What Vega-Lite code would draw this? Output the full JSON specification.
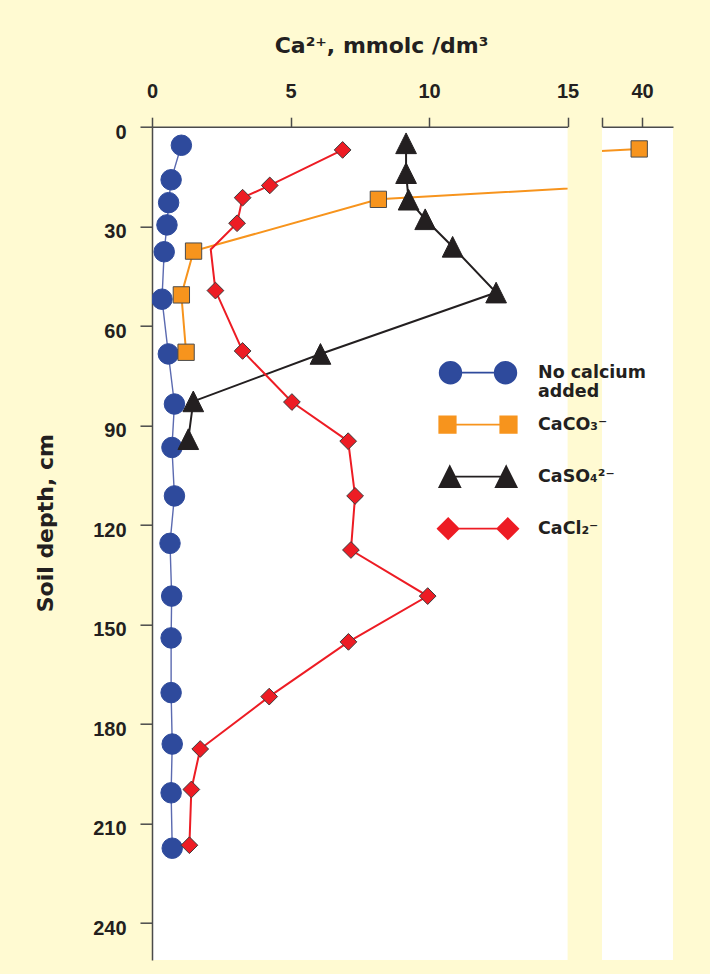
{
  "$schema": "https://vega.github.io/schema/vega-lite/v6.json",
  "background": "#fffad2",
  "padding": {"left": 34, "top": 34.7, "right": 37, "bottom": 14.3},
  "bounds": "flush",
  "spacing": 0,
  "config": {
    "view": {"stroke": null, "fill": "white"},
    "font": "DejaVu Sans",
    "axis": {"grid": false, "domainColor": "#4a4a4a", "domainWidth": 1.5, "tickColor": "#4a4a4a", "tickWidth": 1.5, "labelFont": "Liberation Sans", "labelFontWeight": "bold", "labelFontSize": 20, "labelColor": "#231f20", "titleFont": "DejaVu Sans", "titleFontWeight": "bold", "titleColor": "#231f20", "labelFlush": false, "labelOverlap": false},
    "legend": {"orient": "none", "legendX": 302, "legendY": 222, "title": null, "symbolSize": 2116, "symbolStrokeWidth": 1.8, "gridAlign": "all", "rowPadding": -4.5, "labelFont": "DejaVu Sans", "labelFontSize": 17.5, "labelFontWeight": "bold", "labelColor": "#231f20", "labelOffset": 36}
  },
  "datasets": {
    "obs": [
      {"series": "No calcium added", "x": 1.06, "depth": 5.6},
      {"series": "No calcium added", "x": 0.69, "depth": 16.0},
      {"series": "No calcium added", "x": 0.60, "depth": 22.9},
      {"series": "No calcium added", "x": 0.54, "depth": 29.6},
      {"series": "No calcium added", "x": 0.44, "depth": 37.7},
      {"series": "No calcium added", "x": 0.36, "depth": 52.0},
      {"series": "No calcium added", "x": 0.59, "depth": 68.5},
      {"series": "No calcium added", "x": 0.81, "depth": 83.6},
      {"series": "No calcium added", "x": 0.72, "depth": 96.7},
      {"series": "No calcium added", "x": 0.81, "depth": 111.3},
      {"series": "No calcium added", "x": 0.65, "depth": 125.6},
      {"series": "No calcium added", "x": 0.71, "depth": 141.5},
      {"series": "No calcium added", "x": 0.69, "depth": 154.1},
      {"series": "No calcium added", "x": 0.69, "depth": 170.6},
      {"series": "No calcium added", "x": 0.73, "depth": 186.1},
      {"series": "No calcium added", "x": 0.69, "depth": 200.8},
      {"series": "No calcium added", "x": 0.73, "depth": 217.5},
      {"series": "CaCO₃⁻", "x": 39.9, "depth": 6.7},
      {"series": "CaCO₃⁻", "x": 8.17, "depth": 21.9},
      {"series": "CaCO₃⁻", "x": 1.50, "depth": 37.5},
      {"series": "CaCO₃⁻", "x": 1.06, "depth": 50.7},
      {"series": "CaCO₃⁻", "x": 1.23, "depth": 68.0},
      {"series": "CaSO₄²⁻", "x": 9.17, "depth": 5.0},
      {"series": "CaSO₄²⁻", "x": 9.17, "depth": 14.0},
      {"series": "CaSO₄²⁻", "x": 9.26, "depth": 22.0},
      {"series": "CaSO₄²⁻", "x": 9.86, "depth": 27.9},
      {"series": "CaSO₄²⁻", "x": 10.85, "depth": 36.2},
      {"series": "CaSO₄²⁻", "x": 12.42, "depth": 50.0},
      {"series": "CaSO₄²⁻", "x": 6.08, "depth": 68.5},
      {"series": "CaSO₄²⁻", "x": 1.49, "depth": 82.8},
      {"series": "CaSO₄²⁻", "x": 1.31, "depth": 94.2},
      {"series": "CaCl₂⁻", "x": 6.88, "depth": 7.0},
      {"series": "CaCl₂⁻", "x": 4.25, "depth": 17.7},
      {"series": "CaCl₂⁻", "x": 3.27, "depth": 21.4},
      {"series": "CaCl₂⁻", "x": 3.07, "depth": 29.1},
      {"series": "CaCl₂⁻", "x": 2.12, "depth": 37.0},
      {"series": "CaCl₂⁻", "x": 2.29, "depth": 49.4},
      {"series": "CaCl₂⁻", "x": 3.27, "depth": 67.6},
      {"series": "CaCl₂⁻", "x": 5.05, "depth": 83.0},
      {"series": "CaCl₂⁻", "x": 7.08, "depth": 94.8},
      {"series": "CaCl₂⁻", "x": 7.33, "depth": 111.3},
      {"series": "CaCl₂⁻", "x": 7.18, "depth": 127.6},
      {"series": "CaCl₂⁻", "x": 9.95, "depth": 141.5},
      {"series": "CaCl₂⁻", "x": 7.09, "depth": 155.3},
      {"series": "CaCl₂⁻", "x": 4.23, "depth": 171.8},
      {"series": "CaCl₂⁻", "x": 1.74, "depth": 187.6},
      {"series": "CaCl₂⁻", "x": 1.42, "depth": 199.8},
      {"series": "CaCl₂⁻", "x": 1.35, "depth": 216.6}
    ]
  },
  "resolve": {"scale": {"x": "independent", "y": "shared"}},
  "hconcat": [
    {
      "width": 415.6,
      "height": 833.3,
      "data": {"name": "obs"},
      "encoding": {
        "x": {"field": "x", "type": "quantitative", "scale": {"domain": [0, 15], "nice": false, "zero": false},
          "axis": {"orient": "top", "values": [0, 5, 10, 15], "tickSize": 9.5, "labelPadding": 16,
            "title": "Ca²⁺, mmolc /dm³", "titleFontSize": 22, "titleX": 229, "titleY": -74, "titleAlign": "center", "titleBaseline": "alphabetic"}},
        "y": {"field": "depth", "type": "quantitative", "scale": {"domain": [0, 251.2], "reverse": true, "nice": false, "zero": false},
          "axis": {"orient": "left", "values": [0, 30, 60, 90, 120, 150, 180, 210, 240], "tickSize": 12, "labelPadding": 14, "labelOffset": 5.5,
            "title": "Soil depth, cm", "titleFontSize": 22, "titleX": -107, "titleY": 396, "titleAngle": -90, "titleAlign": "center", "titleBaseline": "middle"}},
        "order": {"field": "depth", "type": "quantitative"}
      },
      "layer": [
        {
          "transform": [{"filter": "datum.series == 'No calcium added'"}],
          "mark": {"type": "line", "clip": true, "color": "#5b6ab0", "strokeWidth": 1.4}
        },
        {
          "transform": [{"filter": "datum.series == 'CaCO₃⁻'"}],
          "mark": {"type": "line", "clip": true, "color": "#f7941d", "strokeWidth": 2}
        },
        {
          "transform": [{"filter": "datum.series == 'CaSO₄²⁻'"}],
          "mark": {"type": "line", "clip": true, "color": "#231f20", "strokeWidth": 2}
        },
        {
          "transform": [{"filter": "datum.series == 'CaCl₂⁻'"}],
          "mark": {"type": "line", "clip": true, "color": "#ed1c24", "strokeWidth": 2}
        },
        {
          "transform": [{"filter": "datum.series == 'No calcium added'"}],
          "mark": {"type": "point", "filled": true, "clip": true, "opacity": 1, "strokeWidth": 1, "shape": "circle", "size": 420, "fill": "#2e4a9c", "stroke": "#2e4a9c"}
        },
        {
          "transform": [{"filter": "datum.series == 'CaCO₃⁻'"}],
          "mark": {"type": "point", "filled": true, "clip": true, "opacity": 1, "strokeWidth": 1, "shape": "square", "size": 266, "fill": "#f7941d", "stroke": "#4a4a4a"}
        },
        {
          "transform": [{"filter": "datum.series == 'CaSO₄²⁻'"}],
          "mark": {"type": "point", "filled": true, "clip": true, "opacity": 1, "strokeWidth": 1, "shape": "M0,-1L1,1L-1,1Z", "size": 428, "fill": "#231f20", "stroke": "#231f20"}
        },
        {
          "transform": [{"filter": "datum.series == 'CaCl₂⁻' && datum.depth != 37.0"}],
          "mark": {"type": "point", "filled": true, "clip": true, "opacity": 1, "strokeWidth": 1, "shape": "diamond", "size": 280, "fill": "#ed1c24", "stroke": "#3a3a3a"}
        },
        {
          "transform": [{"filter": "false"}],
          "mark": {"type": "point", "filled": true, "opacity": 1},
          "encoding": {
            "shape": {"field": "series", "type": "nominal",
              "scale": {"domain": ["No calcium added", "CaCO₃⁻", "CaSO₄²⁻", "CaCl₂⁻"], "range": [
                "M-0.726,0L0.726,0M-1.666,0A0.47,0.47 0 1,0 -0.726,0A0.47,0.47 0 1,0 -1.666,0ZM0.726,0A0.47,0.47 0 1,0 1.666,0A0.47,0.47 0 1,0 0.726,0Z",
                "M-0.970,0L0.970,0M-1.683,-0.357H-0.970V0.357H-1.683ZM0.970,-0.357H1.683V0.357H0.970Z",
                "M-1.0,0L1.0,0M-1.226,-0.452L-0.774,0.452L-1.678,0.452ZM1.226,-0.452L1.678,0.452L0.774,0.452Z",
                "M-0.844,0L0.844,0M-1.748,0L-1.296,-0.452L-0.844,0L-1.296,0.452ZM0.844,0L1.296,-0.452L1.748,0L1.296,0.452Z"]},
              "legend": {"labelExpr": "datum.value == 'No calcium added' ? ['No calcium', 'added'] : datum.label"}},
            "fill": {"field": "series", "type": "nominal",
              "scale": {"domain": ["No calcium added", "CaCO₃⁻", "CaSO₄²⁻", "CaCl₂⁻"], "range": ["#2e4a9c", "#f7941d", "#231f20", "#ed1c24"]},
              "legend": {"labelExpr": "datum.value == 'No calcium added' ? ['No calcium', 'added'] : datum.label"}},
            "stroke": {"field": "series", "type": "nominal",
              "scale": {"domain": ["No calcium added", "CaCO₃⁻", "CaSO₄²⁻", "CaCl₂⁻"], "range": ["#2e4a9c", "#f7941d", "#231f20", "#ed1c24"]},
              "legend": {"labelExpr": "datum.value == 'No calcium added' ? ['No calcium', 'added'] : datum.label"}}
          }
        }
      ]
    },
    {
      "width": 33.7,
      "height": 833.3,
      "data": {"values": []},
      "mark": "point"
    },
    {
      "width": 71,
      "height": 833.3,
      "data": {"name": "obs"},
      "encoding": {
        "x": {"field": "x", "type": "quantitative", "scale": {"domain": [38.556, 41.12], "nice": false, "zero": false},
          "axis": {"orient": "top", "values": [38.556, 40], "labelExpr": "datum.value == 40 ? '40' : ''", "tickSize": 9.5, "labelPadding": 16, "title": null}},
        "y": {"field": "depth", "type": "quantitative", "scale": {"domain": [0, 251.2], "reverse": true, "nice": false, "zero": false}, "axis": null},
        "order": {"field": "depth", "type": "quantitative"}
      },
      "layer": [
        {
          "transform": [{"filter": "datum.series == 'CaCO₃⁻'"}],
          "mark": {"type": "line", "clip": true, "color": "#f7941d", "strokeWidth": 2}
        },
        {
          "transform": [{"filter": "datum.series == 'CaCO₃⁻'"}],
          "mark": {"type": "point", "filled": true, "clip": true, "opacity": 1, "strokeWidth": 1, "shape": "square", "size": 266, "fill": "#f7941d", "stroke": "#4a4a4a"}
        }
      ]
    }
  ]
}
